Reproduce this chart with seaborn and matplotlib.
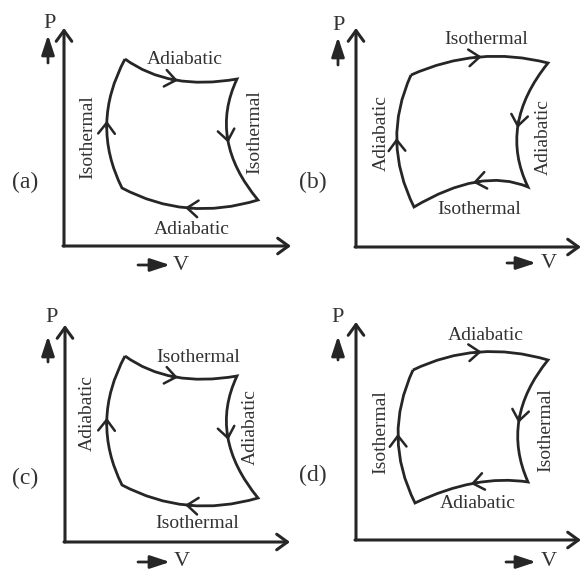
import numpy as np
import matplotlib
matplotlib.use("Agg")
import matplotlib.pyplot as plt
from matplotlib.path import Path
from matplotlib.patches import PathPatch
import seaborn as sns

sns.set_theme(style="white")
plt.rcParams['font.family'] = ['Liberation Serif', 'DejaVu Serif']

# ---------------- data (pixel coordinates) ----------------
panel_names = ['(a)', '(b)', '(c)', '(d)']
panel_name_x = [25, 313, 25, 313]
panel_name_y = [182, 182, 478, 475]

# cycle corners: top-left, top-right, bottom-right, bottom-left
corners_a = [(125, 59), (237, 79), (258, 200), (122, 188)]
corners_b = [(411, 75), (548, 63), (528, 187), (414, 207)]
corners_c = [(125, 356), (237, 376), (258, 498), (122, 485)]
corners_d = [(413, 370), (548, 360), (528, 482), (415, 503)]

# bezier control points for sides: top, right, bottom, left
controls_a = [(169, 91), (208, 140), (186, 222), (90, 124)]
controls_b = [(478, 45), (498, 125), (481, 167), (381, 141)]
controls_c = [(169, 388), (208, 437), (186, 519), (90, 421)]
controls_d = [(477, 339), (500, 419), (476, 474), (382, 437)]

# process names: top, right, bottom, left
process_a = ['Adiabatic', 'Isothermal', 'Adiabatic', 'Isothermal']
process_b = ['Isothermal', 'Adiabatic', 'Isothermal', 'Adiabatic']
process_c = ['Isothermal', 'Adiabatic', 'Isothermal', 'Adiabatic']
process_d = ['Adiabatic', 'Isothermal', 'Adiabatic', 'Isothermal']

# label positions: top, right, bottom, left
label_pos_a = [(185, 60), (255, 132), (192, 229), (88, 137)]
label_pos_b = [(486, 40), (543, 137), (479, 210), (381, 133)]
label_pos_c = [(198, 357), (250, 427), (197, 523), (87, 413)]
label_pos_d = [(486, 335), (546, 430), (478, 503), (381, 432)]

# axes: origin x, origin y, y-axis top, x-axis right end
axis_x0 = [64, 356, 65, 356]
axis_y0 = [246, 247, 542, 540]
axis_top = [28, 28, 325, 322]
axis_right = [291, 581, 290, 581]

# P label and arrow
p_label_x = [50, 339, 52, 338]
p_label_y = [23, 25, 318, 318]
p_arrow_x = [48, 338, 48, 338]
p_arrow_y0 = [63, 65, 362, 360]
p_arrow_y1 = [35, 37, 336, 336]

# V label and arrow
v_arrow_x0 = [138, 507, 138, 506]
v_arrow_x1 = [170, 536, 170, 536]
v_arrow_y = [265, 263, 562, 562]
v_label_x = [181, 549, 182, 549]

corners = [corners_a, corners_b, corners_c, corners_d]
controls = [controls_a, controls_b, controls_c, controls_d]
processes = [process_a, process_b, process_c, process_d]
label_pos = [label_pos_a, label_pos_b, label_pos_c, label_pos_d]

LINE = '#262626'
TEXT = '#333333'

fig = plt.figure(figsize=(5.82, 5.70), dpi=100)
ax = fig.add_axes([0, 0, 1, 1])
ax.set_xlim(0, 582)
ax.set_ylim(570, 0)
ax.axis('off')

for i in range(4):
    # axes with open arrowheads
    ax.annotate('', xy=(axis_x0[i], axis_top[i]), xytext=(axis_x0[i], axis_y0[i]),
                arrowprops=dict(arrowstyle='->, head_length=0.55, head_width=0.4',
                                lw=2.2, color=LINE, shrinkA=0, shrinkB=0,
                                mutation_scale=14))
    ax.annotate('', xy=(axis_right[i], axis_y0[i]), xytext=(axis_x0[i] - 1, axis_y0[i]),
                arrowprops=dict(arrowstyle='->, head_length=0.55, head_width=0.4',
                                lw=2.2, color=LINE, shrinkA=0, shrinkB=0,
                                mutation_scale=14))
    # P label and arrow
    ax.text(p_label_x[i], p_label_y[i], 'P', fontsize=16, color=TEXT,
            ha='center', va='center')
    ax.annotate('', xy=(p_arrow_x[i], p_arrow_y1[i]), xytext=(p_arrow_x[i], p_arrow_y0[i]),
                arrowprops=dict(arrowstyle='-|>, head_length=0.85, head_width=0.28',
                                lw=2.0, color=LINE, shrinkA=0, shrinkB=0,
                                mutation_scale=14))
    # V label and arrow
    ax.annotate('', xy=(v_arrow_x1[i], v_arrow_y[i]), xytext=(v_arrow_x0[i], v_arrow_y[i]),
                arrowprops=dict(arrowstyle='-|>, head_length=0.85, head_width=0.28',
                                lw=2.0, color=LINE, shrinkA=0, shrinkB=0,
                                mutation_scale=14))
    ax.text(v_label_x[i], v_arrow_y[i], 'V', fontsize=16, color=TEXT,
            ha='center', va='center')
    # panel name
    ax.text(panel_name_x[i], panel_name_y[i], panel_names[i], fontsize=17,
            color=TEXT, ha='center', va='center')

    # cycle
    c = corners[i]
    k = controls[i]
    verts = [c[0]]
    codes = [Path.MOVETO]
    for s in range(4):
        p2 = c[(s + 1) % 4]
        verts += [k[s], p2]
        codes += [Path.CURVE3, Path.CURVE3]
    ax.add_patch(PathPatch(Path(verts, codes), facecolor='none', edgecolor=LINE,
                           lw=2.0, joinstyle='miter'))
    # direction chevrons at mid of each side
    for s in range(4):
        p0 = np.array(c[s], float)
        p2 = np.array(c[(s + 1) % 4], float)
        cc = np.array(k[s], float)
        tip = 0.25 * p0 + 0.5 * cc + 0.25 * p2
        d = (p2 - p0) / np.linalg.norm(p2 - p0)
        ax.annotate('', xy=tuple(tip + 3 * d), xytext=tuple(tip - 4 * d),
                    arrowprops=dict(arrowstyle='->, head_length=0.65, head_width=0.5',
                                    lw=1.8, color=LINE, shrinkA=0, shrinkB=0,
                                    mutation_scale=12))
    # process labels
    for s in range(4):
        x, y = label_pos[i][s]
        rot = 90 if s in (1, 3) else 0
        ax.text(x, y, processes[i][s], fontsize=14, color=TEXT, rotation=rot,
                ha='center', va='center')

fig.savefig('out.png', dpi=100)
